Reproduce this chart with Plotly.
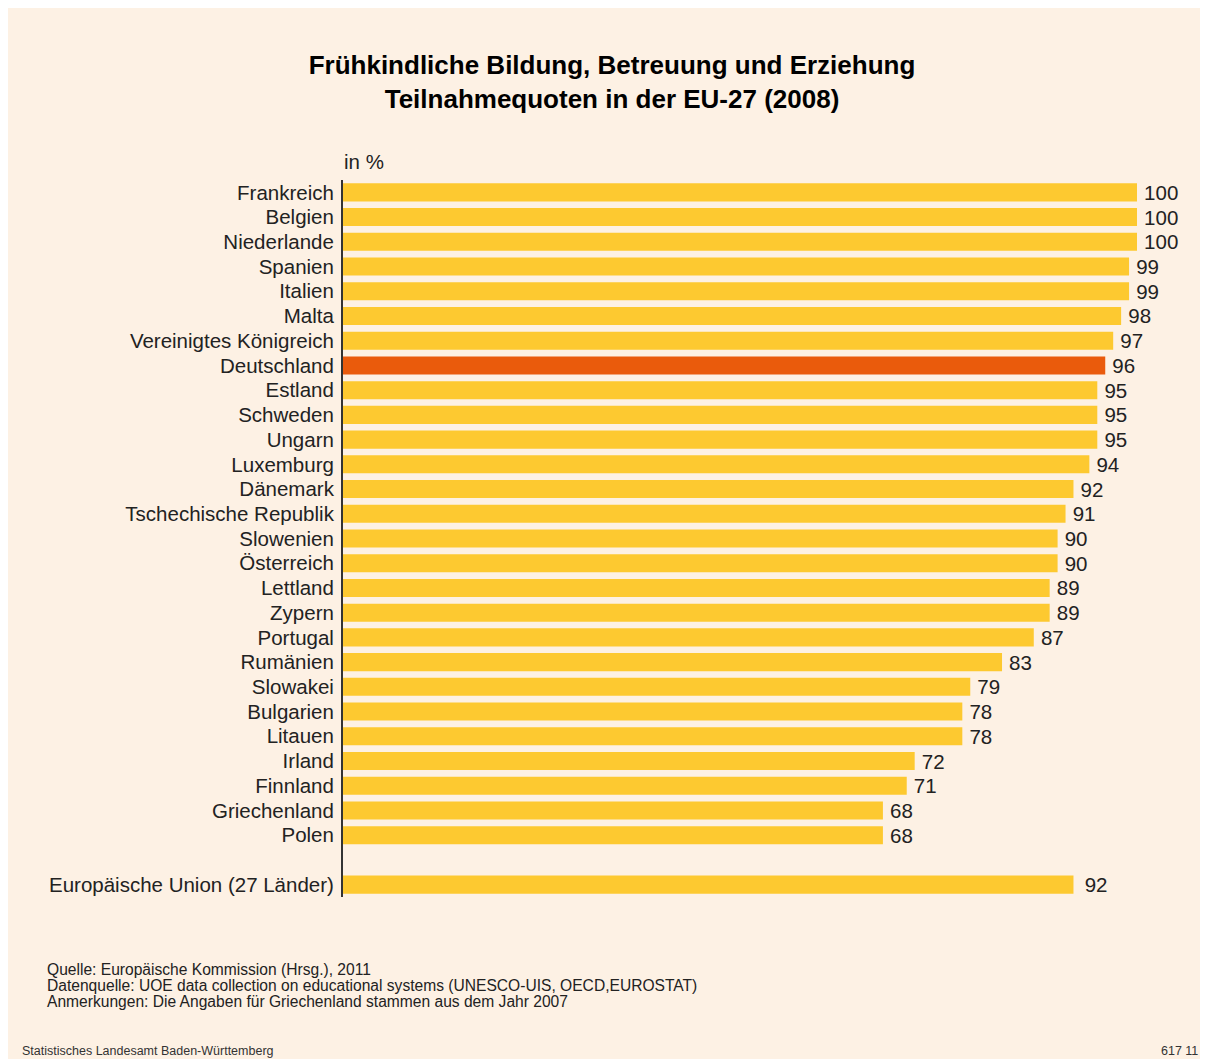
import plotly.graph_objects as go

countries = ["Frankreich", "Belgien", "Niederlande", "Spanien", "Italien", "Malta",
             "Vereinigtes Königreich", "Deutschland", "Estland", "Schweden", "Ungarn",
             "Luxemburg", "Dänemark", "Tschechische Republik", "Slowenien", "Österreich",
             "Lettland", "Zypern", "Portugal", "Rumänien", "Slowakei", "Bulgarien",
             "Litauen", "Irland", "Finnland", "Griechenland", "Polen"]
values = [100, 100, 100, 99, 99, 98, 97, 96, 95, 95, 95, 94, 92, 91, 90, 90,
          89, 89, 87, 83, 79, 78, 78, 72, 71, 68, 68]
eu_label = "Europäische Union (27 Länder)"
eu_value = 92
highlight = "Deutschland"

YELLOW = "#fdc930"
ORANGE = "#ea5b0c"
BG = "#fdf1e4"
TXT = "#222222"
FONT = "Liberation Sans, Arial, sans-serif"

cats = countries + [" ", eu_label]
vals = values + [None, eu_value]
colors = [ORANGE if c == highlight else YELLOW for c in countries] + [YELLOW, YELLOW]
texts = ["\u2009" + str(v) for v in values] + ["", "\u2009\u2009" + str(eu_value)]

fig = go.Figure(go.Bar(
    y=cats, x=vals, orientation="h",
    marker=dict(color=colors, line=dict(width=0)),
    width=0.73,
    text=texts, textposition="outside", cliponaxis=False, constraintext="none",
    textfont=dict(size=20.5, color=TXT, family=FONT),
    hoverinfo="skip",
))

# geometry (figure pixel coordinates)
L, R_ = 335, 1129
T, B = 172, 889
W, H = 1208, 1059

def px_x(p):
    return (p - L) / (R_ - L)

def px_y(p):
    return (B - p) / (B - T)

notes = ["Quelle: Europäische Kommission (Hrsg.), 2011",
         "Datenquelle: UOE data collection on educational systems (UNESCO-UIS, OECD,EUROSTAT)",
         "Anmerkungen: Die Angaben für Griechenland stammen aus dem Jahr 2007"]

annotations = [
    dict(text="in %", xref="paper", yref="paper", x=px_x(334), y=px_y(153),
         xanchor="left", yanchor="middle", showarrow=False,
         font=dict(size=20.5, color=TXT, family=FONT)),
    dict(text="Statistisches Landesamt Baden-Württemberg", xref="paper", yref="paper",
         x=px_x(12), y=px_y(1043), xanchor="left", yanchor="middle", showarrow=False,
         font=dict(size=12.5, color="#333333", family=FONT)),
    dict(text="617 11", xref="paper", yref="paper",
         x=px_x(1192), y=px_y(1043), xanchor="right", yanchor="middle", showarrow=False,
         font=dict(size=12.5, color="#333333", family=FONT)),
]
for i, n in enumerate(notes):
    annotations.append(dict(text=n, xref="paper", yref="paper", x=px_x(37), y=px_y(961 + 16 * i),
                            xanchor="left", yanchor="middle", showarrow=False,
                            font=dict(size=15.6, color=TXT, family=FONT)))

fig.update_layout(
    width=W, height=H,
    margin=dict(l=L, r=W - R_, t=T, b=H - B, autoexpand=False),
    paper_bgcolor=BG, plot_bgcolor=BG,
    showlegend=False,
    font=dict(family=FONT, color=TXT, size=20.5),
    title=dict(
        text="<b>Frühkindliche Bildung, Betreuung und Erziehung<br>Teilnahmequoten in der EU-27 (2008)</b>",
        x=0.5, xref="container", xanchor="center",
        y=1 - 66 / H, yref="container", yanchor="top",
        font=dict(size=26, color="#000000", family=FONT),
    ),
    xaxis=dict(range=[0, 100], visible=False, fixedrange=True),
    yaxis=dict(
        categoryorder="array", categoryarray=cats, autorange="reversed",
        tickmode="array", tickvals=cats, ticktext=cats,
        showline=True, linecolor="#333333", linewidth=2,
        showgrid=False, zeroline=False, ticks="",
        ticklabelstandoff=3,
        tickfont=dict(size=20.5, color=TXT, family=FONT),
    ),
    annotations=annotations,
)

fig.write_html("out.html")
